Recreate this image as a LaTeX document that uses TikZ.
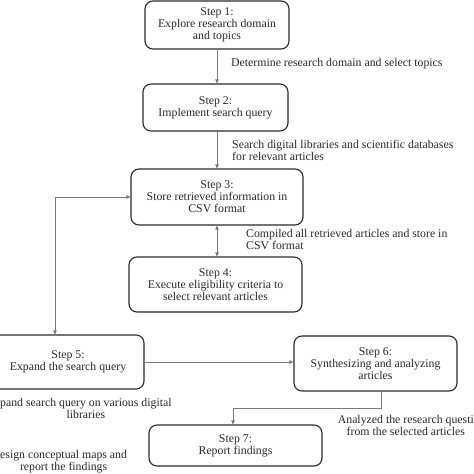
\documentclass[tikz,border=0pt]{standalone}
\usepackage{fontspec}
\setmainfont{Liberation Serif}
\usetikzlibrary{arrows.meta,calc}
\definecolor{lin}{HTML}{7A7A7A}
\definecolor{txt}{HTML}{2A2A2A}
\tikzset{
  stepbox/.style={draw=txt, line width=1.1pt, rounded corners=8pt, align=center,
    inner sep=1pt, text=txt, font=\fontsize{11.8}{12}\selectfont},
  conn/.style={draw=lin, line width=0.7pt, -{Triangle[length=4pt,width=3.5pt]}},
  biconn/.style={draw=lin, line width=0.7pt, {Triangle[length=4pt,width=3.5pt]}-{Triangle[length=4pt,width=3.5pt]}},
  plain/.style={draw=lin, line width=0.7pt},
  lbl/.style={text=txt, font=\fontsize{11.8}{12}\selectfont, inner sep=0pt},
}
\begin{document}
\begin{tikzpicture}[x=1pt,y=-1pt]
\useasboundingbox (0,0) rectangle (474,474);
\clip (0,0) rectangle (474,474);
\fill[white] (0,0) rectangle (474,474);
\node[stepbox, minimum width=144pt, minimum height=48pt] (b1) at (217,25) {Step 1:\\Explore research domain\\and topics};
\node[stepbox, minimum width=145pt, minimum height=47pt] (b2) at (215.5,107.5) {Step 2:\\Implement search query};
\node[stepbox, minimum width=172pt, minimum height=56pt] (b3) at (217,197) {Step 3:\\Store retrieved information in\\CSV format};
\node[stepbox, minimum width=173pt, minimum height=55pt] (b4) at (215.5,284.5) {Step 4:\\Execute eligibility criteria to\\select relevant articles};
\node[stepbox, minimum width=152pt, minimum height=54pt] (b5) at (68,362) {Step 5:\\Expand the search query};
\node[stepbox, minimum width=163pt, minimum height=55pt] (b6) at (375.5,363.5) {Step 6:\\Synthesizing and analyzing\\articles};
\node[stepbox, minimum width=173pt, minimum height=41pt] (b7) at (235.5,445.5) {Step 7:\\Report findings};

\coordinate (c12) at (217,0);
\draw[conn] (b1.south -| c12) -- (b2.north -| c12);
\draw[conn] (b2.south -| c12) -- (b3.north -| c12);
\draw[biconn] (b3.south -| c12) -- (b4.north -| c12);
\coordinate (lc) at (55,197);
\draw[biconn] (b3.west) -- (lc) -- (lc |- b5.north);
\draw[conn] (b5.east) -- (b5.east -| b6.west);
\coordinate (r6) at (381,408);
\coordinate (l7) at (233,408);
\draw[plain] (b6.south -| r6) -- (r6) -- (l7);
\draw[conn] (l7) -- (l7 |- b7.north);

\node[lbl, anchor=base west] (t1) at (231,66) {Determine research domain and select topics};
\node[lbl, anchor=base west, align=left] (t2) at (232,160) {Search digital libraries and scientific databases\\for relevant articles};
\node[lbl, anchor=base west, align=left] (t3) at (246,249) {Compiled all retrieved articles and store in\\CSV format};
\node[lbl, anchor=base west, align=center] (t5) at (0,418) {pand search query on various digital\\libraries};
\node[lbl, anchor=base west, align=center] (t8) at (0,470) {esign conceptual maps and\\report the findings};
\node[lbl, anchor=base east, align=center] (t6) at (474,435) {Analyzed the research questi\\from the selected articles};
\end{tikzpicture}
\end{document}
